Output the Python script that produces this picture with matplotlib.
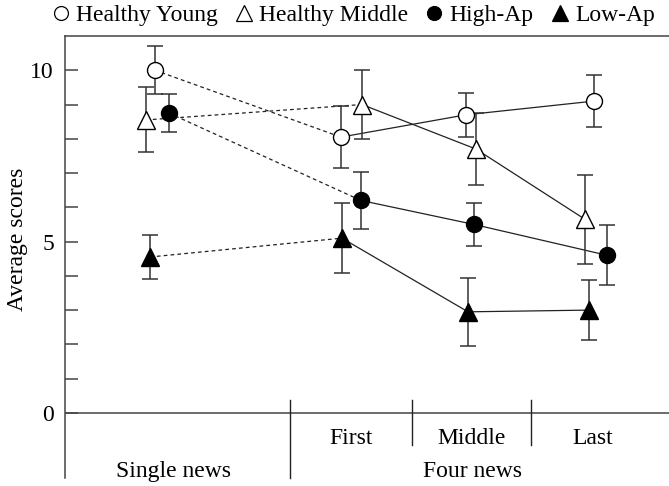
import matplotlib
matplotlib.use("Agg")
import matplotlib.pyplot as plt
from matplotlib.lines import Line2D

plt.rcParams['font.family'] = ['Liberation Serif', 'DejaVu Serif']

# data
groups = ['Single news', 'First', 'Middle', 'Last']
series = ['Healthy Young', 'Healthy Middle', 'High-Ap', 'Low-Ap']
young = [10.0, 8.05, 8.7, 9.1]
young_err = [0.7, 0.9, 0.65, 0.75]
middle = [8.55, 9.0, 7.7, 5.65]
middle_err = [0.95, 1.0, 1.05, 1.3]
high_ap = [8.75, 6.2, 5.5, 4.6]
high_ap_err = [0.55, 0.83, 0.62, 0.88]
low_ap = [4.55, 5.1, 2.95, 3.0]
low_ap_err = [0.63, 1.03, 1.0, 0.88]

# layout: x in units of 100 px from the y axis
base_x = [0.9, 2.87, 4.06, 5.25]
offsets = {
    'Healthy Young': [0.0, -0.11, -0.05, 0.04],
    'Healthy Middle': [-0.09, 0.10, 0.05, -0.05],
    'High-Ap': [0.14, 0.09, 0.03, 0.17],
    'Low-Ap': [-0.05, -0.10, -0.03, -0.01],
}
styles = {
    'Healthy Young': dict(marker='o', ms=11.5, mfc='white'),
    'Healthy Middle': dict(marker='^', ms=13, mfc='white'),
    'High-Ap': dict(marker='o', ms=11.5, mfc='black'),
    'Low-Ap': dict(marker='^', ms=13, mfc='black'),
}
vals = {'Healthy Young': (young, young_err), 'Healthy Middle': (middle, middle_err),
        'High-Ap': (high_ap, high_ap_err), 'Low-Ap': (low_ap, low_ap_err)}

fs = 17

fig = plt.figure(figsize=(6.69, 4.86), dpi=100)
ax = fig.add_axes([65/669, 8/486, 604/669, 442/486])
ax.set_xlim(0, 6.04)
ax.set_ylim(-1.9, 11)

linec = '#222222'
for name in series:
    y, e = vals[name]
    x = [b + o for b, o in zip(base_x, offsets[name])]
    st = styles[name]
    ax.plot(x[:2], y[:2], ls=(0, (3, 2.5)), color=linec, lw=0.9, zorder=2)
    ax.plot(x[1:], y[1:], ls='-', color=linec, lw=0.9, zorder=2)
    ax.errorbar(x, y, yerr=e, fmt='none', ecolor='#333333', elinewidth=1.1,
                capsize=6, capthick=1.1, zorder=3)
    ax.plot(x, y, ls='none', marker=st['marker'], ms=st['ms'], mfc=st['mfc'],
            mec='black', mew=1.0, zorder=4)

# axes frame
for s in ['right', 'bottom']:
    ax.spines[s].set_visible(False)
for s in ['left', 'top']:
    ax.spines[s].set_color('#444444')
    ax.spines[s].set_linewidth(1.1)
ax.axhline(0, color='#444444', lw=1.1, zorder=1)

ax.set_xticks([])
ax.set_yticks(range(0, 11))
ax.set_yticklabels(['0', '', '', '', '', '5', '', '', '', '', '10'])
ax.tick_params(axis='y', direction='in', length=9.5, width=1.1, color='#444444',
               labelsize=fs, pad=8)
ax.set_ylabel('Average scores', fontsize=fs)
ax.yaxis.set_label_coords(-0.062, 0.54)

# category table below zero
right_end = 5.9
dividers = [2.25, 3.47, 4.66]
ax.plot([dividers[0]] * 2, [0.37, -1.9], color='#222222', lw=1.0, clip_on=False)
for d in dividers[1:]:
    ax.plot([d] * 2, [0.37, -0.94], color='#222222', lw=1.0)
sub_centers = [(dividers[0] + dividers[1]) / 2, (dividers[1] + dividers[2]) / 2,
               (dividers[2] + right_end) / 2]
for c, lab in zip(sub_centers, groups[1:]):
    ax.text(c, -0.91, lab, ha='center', va='baseline', fontsize=fs)
ax.text(1.08, -1.88, 'Single news', ha='center', va='baseline', fontsize=fs)
ax.text((dividers[0] + right_end) / 2, -1.88, 'Four news', ha='center', va='baseline', fontsize=fs)

handles = [Line2D([], [], ls='none', marker=styles[n]['marker'],
                  ms=styles[n]['ms'] - 1.5, mfc=styles[n]['mfc'], mec='black', mew=0.9)
           for n in series]
fig.legend(handles, series, loc='upper right', bbox_to_anchor=(1.0, 1.02), ncol=4,
           frameon=False, fontsize=fs, handlelength=0.7, handletextpad=0.3,
           columnspacing=0.75, borderaxespad=0.2)

fig.savefig('out.png', dpi=100)
